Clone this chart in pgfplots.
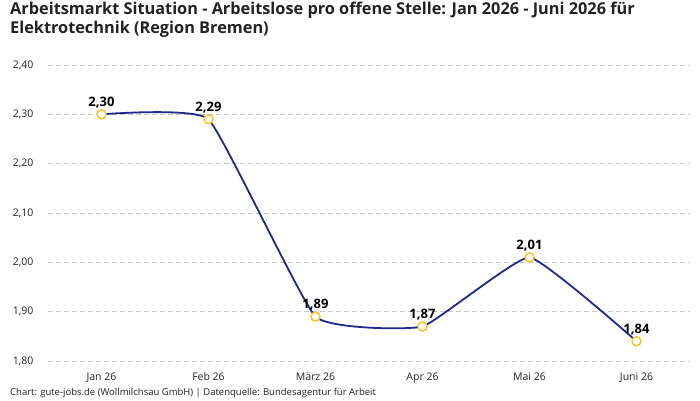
\documentclass[border=0pt]{standalone}
\usepackage{pgfplots}
\pgfplotsset{compat=1.18}
\usepackage{fontspec}
\setmainfont{Open Sans}
\definecolor{linec}{HTML}{1C2A8E}
\definecolor{markc}{HTML}{F8C42A}
\definecolor{gridc}{HTML}{C8C8C8}
\definecolor{txt}{HTML}{222222}
\begin{document}
\begin{tikzpicture}
\useasboundingbox (0pt,0pt) rectangle (700pt,400pt);
\node[anchor=north west, align=left, font=\fontsize{16.3}{19}\selectfont\bfseries, text=txt, inner sep=0] at (10pt,398pt)
 {Arbeitsmarkt Situation - Arbeitslose pro offene Stelle: Jan 2026 - Juni 2026 für\\Elektrotechnik (Region Bremen)};
\node[anchor=base west, font=\fontsize{9.5}{11}\selectfont, text=txt, inner sep=0] at (10pt,5pt)
 {Chart: gute-jobs.de (Wollmilchsau GmbH) | Datenquelle: Bundesagentur für Arbeit};
\begin{axis}[
  at={(48pt,39pt)}, anchor=south west,
  scale only axis, width=642pt, height=296pt,
  xmin=-0.5, xmax=5.5, ymin=1.8, ymax=2.4,
  xtick={0,1,2,3,4,5},
  xticklabels={Jan 26,Feb 26,März 26,Apr 26,Mai 26,Juni 26},
  ytick={1.8,1.9,2.0,2.1,2.2,2.3,2.4},
  axis line style={draw=none},
  major tick length=0pt,
  ymajorgrids,
  grid style={gridc, dash pattern=on 5pt off 3pt, line width=0.6pt},
  tick label style={font=\fontsize{10.5}{12}\selectfont, text=txt},
  yticklabel style={xshift=-11pt, /pgf/number format/fixed, /pgf/number format/fixed zerofill, /pgf/number format/precision=2, /pgf/number format/use comma, /pgf/number format/assume math mode=true},
  xticklabel style={yshift=-8pt},
  clip=false,
  nodes near coords,
  every node near coord/.append style={font=\fontsize{13}{15}\selectfont\bfseries, text=black, anchor=south, yshift=2pt,
     /pgf/number format/fixed, /pgf/number format/fixed zerofill, /pgf/number format/precision=2, /pgf/number format/use comma, /pgf/number format/assume math mode=true},
]
\addplot[color=linec, line width=1.8pt, smooth, tension=0.22,
  mark=*, mark size=4.5pt, mark options={draw=markc, fill=white, line width=1.5pt}]
  coordinates {(0,2.30) (1,2.29) (2,1.89) (3,1.87) (4,2.01) (5,1.84)};
\end{axis}
\end{tikzpicture}
\end{document}
